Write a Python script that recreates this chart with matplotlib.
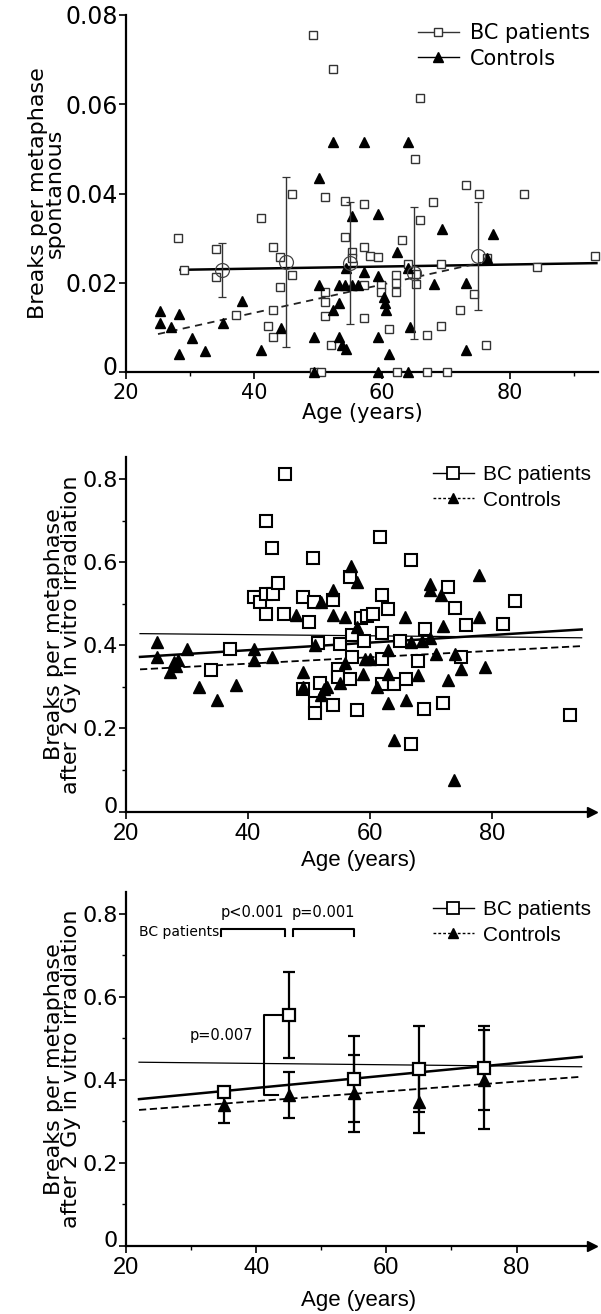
import matplotlib
matplotlib.use("Agg")
import matplotlib.pyplot as plt
import matplotlib.transforms as mtransforms
from matplotlib.ticker import FixedLocator, FixedFormatter

# ---- panel A: spontaneous breaks vs age (single subjects) ----
bc_age_a = [28.2, 29.1, 34.1, 34.1, 37.2, 41.1, 43.0, 44.0, 43.0, 42.2, 43.0, 44.1, 46.0, 46.0,
            49.2, 52.3, 49.3, 50.4, 51.1, 51.1, 51.1, 51.1, 52.1, 54.2, 54.2, 55.3, 55.3, 57.2,
            57.2, 58.1, 59.3, 57.2, 57.2, 59.9, 59.9, 61.1, 62.2, 62.2, 62.2, 63.1, 64.1, 65.2,
            66.0, 66.0, 65.3, 65.3, 67.1, 62.3, 67.1, 70.1, 68.0, 69.2, 69.2, 72.2, 73.1, 74.3,
            75.2, 76.4, 76.2, 82.2, 84.2, 93.3]
bc_val_a = [0.030, 0.0229, 0.0275, 0.0213, 0.0127, 0.0346, 0.0279, 0.0258, 0.0139, 0.0103, 0.0079,
            0.0191, 0.040, 0.0217, 0.0755, 0.0678, 0.0, 0.0, 0.0393, 0.018, 0.0157, 0.0126, 0.006,
            0.0384, 0.0303, 0.027, 0.0255, 0.0377, 0.028, 0.026, 0.0257, 0.0195, 0.0122, 0.0195,
            0.018, 0.0097, 0.0217, 0.0199, 0.018, 0.0296, 0.0242, 0.0477, 0.0613, 0.034, 0.022,
            0.0197, 0.0082, 0.0, 0.0, 0.0, 0.0382, 0.0242, 0.0103, 0.0139, 0.042, 0.0175, 0.040,
            0.0255, 0.006, 0.040, 0.0235, 0.026]
ct_age_a = [25.3, 25.3, 27.1, 28.3, 28.3, 30.3, 32.3, 35.2, 38.2, 41.1, 44.2, 49.3, 49.3, 50.2,
            50.2, 52.3, 52.3, 53.3, 53.3, 54.2, 55.3, 54.4, 55.3, 53.3, 53.8, 54.4, 57.2, 57.2,
            59.3, 59.3, 59.3, 59.3, 56.3, 62.3, 60.3, 60.5, 60.7, 61.1, 64.1, 64.1, 64.4, 64.1,
            68.1, 69.3, 73.1, 73.1, 77.3, 76.4]
ct_val_a = [0.0137, 0.0109, 0.0101, 0.013, 0.004, 0.0077, 0.0047, 0.0109, 0.016, 0.0049, 0.0098,
            0.0079, 0.0, 0.0435, 0.0195, 0.0515, 0.014, 0.0154, 0.0195, 0.0195, 0.0195, 0.0232,
            0.035, 0.0079, 0.006, 0.0051, 0.0515, 0.0225, 0.0354, 0.0215, 0.0079, 0.0, 0.0195,
            0.0268, 0.0168, 0.0154, 0.0139, 0.004, 0.0515, 0.0232, 0.0101, 0.0, 0.0197, 0.032,
            0.0199, 0.0049, 0.031, 0.0255]
group_age = [35, 45, 55, 65, 75]
bc_mean_a = [0.0229, 0.0247, 0.0245, 0.0222, 0.026]
bc_sd_a = [0.006, 0.019, 0.0137, 0.0148, 0.012]
bc_fit_a_x, bc_fit_a_y = [28.5, 93.5], [0.0229, 0.0244]
ct_fit_a_x, ct_fit_a_y = [25.0, 75.5], [0.0085, 0.0245]

# ---- panel B: breaks after 2 Gy vs age (single subjects) ----
bc_age_b = [34.0, 37.0, 41.0, 42.0, 43.0, 44.1, 45.0, 43.0, 45.9, 43.0, 43.9, 46.0, 49.0, 49.0,
            50.8, 50.0, 50.7, 51.0, 51.0, 51.5, 51.8, 53.9, 54.0, 54.8, 54.8, 55.1, 56.7, 56.8,
            57.0, 57.0, 57.8, 58.6, 59.5, 60.5, 61.6, 61.9, 61.9, 61.9, 63.0, 63.9, 59.0, 62.0,
            65.0, 65.9, 66.8, 66.8, 67.9, 68.9, 69.0, 71.9, 72.8, 73.9, 75.0, 75.8, 81.8, 83.8, 92.8]
bc_val_b = [0.34, 0.392, 0.515, 0.504, 0.524, 0.524, 0.55, 0.476, 0.476, 0.70, 0.633, 0.813, 0.516,
            0.295, 0.504, 0.456, 0.61, 0.26, 0.236, 0.405, 0.308, 0.508, 0.256, 0.344, 0.324, 0.404,
            0.32, 0.564, 0.424, 0.372, 0.244, 0.465, 0.47, 0.476, 0.66, 0.52, 0.366, 0.306, 0.488,
            0.306, 0.41, 0.43, 0.41, 0.32, 0.605, 0.162, 0.362, 0.246, 0.44, 0.26, 0.54, 0.49,
            0.372, 0.448, 0.45, 0.507, 0.232]
ct_age_b = [25.1, 25.1, 27.2, 27.8, 28.2, 28.5, 30.0, 32.0, 35.0, 38.0, 41.0, 41.0, 44.0, 47.9,
            49.0, 49.0, 51.0, 51.9, 52.0, 52.5, 53.0, 53.9, 53.9, 55.1, 55.9, 55.9, 56.9, 57.8,
            57.8, 58.9, 59.2, 60.0, 61.1, 63.0, 63.0, 63.0, 63.9, 65.7, 65.9, 66.8, 67.9, 68.5,
            69.8, 69.8, 69.8, 70.9, 71.7, 71.9, 72.8, 73.7, 73.9, 74.9, 77.8, 77.9, 78.9]
ct_val_b = [0.408, 0.372, 0.336, 0.36, 0.35, 0.365, 0.392, 0.30, 0.268, 0.304, 0.392, 0.364, 0.372,
            0.472, 0.336, 0.30, 0.40, 0.504, 0.28, 0.295, 0.30, 0.532, 0.472, 0.308, 0.468, 0.357,
            0.59, 0.552, 0.444, 0.332, 0.368, 0.368, 0.30, 0.388, 0.332, 0.26, 0.172, 0.468, 0.268,
            0.408, 0.328, 0.41, 0.548, 0.532, 0.417, 0.38, 0.52, 0.446, 0.316, 0.076, 0.38, 0.344,
            0.568, 0.468, 0.348]
all_fit_b_x, all_fit_b_y = [22.3, 94.7], [0.428, 0.418]
bc_fit_b_x, bc_fit_b_y = [22.3, 94.7], [0.372, 0.438]
ct_fit_b_x, ct_fit_b_y = [22.3, 94.7], [0.342, 0.398]

# ---- panel C: group means after 2 Gy ----
bc_mean_c = [0.371, 0.556, 0.401, 0.426, 0.429]
bc_sd_c = [0.012, 0.103, 0.103, 0.104, 0.101]
ct_mean_c = [0.339, 0.363, 0.367, 0.347, 0.40]
ct_sd_c = [0.043, 0.055, 0.093, 0.075, 0.12]
all_fit_c_x, all_fit_c_y = [22.0, 90.0], [0.442, 0.431]
bc_fit_c_x, bc_fit_c_y = [22.0, 90.0], [0.353, 0.455]
ct_fit_c_x, ct_fit_c_y = [22.0, 90.0], [0.327, 0.407]

DV = ['DejaVu Sans']
LS = ['Liberation Sans', 'DejaVu Sans']

fig = plt.figure(figsize=(6.01, 13.14), dpi=100)
W, H = 601.0, 1314.0


def make_axes(x0, x1, ytop, ybot):
    return fig.add_axes([x0 / W, 1 - ybot / H, (x1 - x0) / W, (ybot - ytop) / H])


def style_axes(ax, xfont, yfont, xsize, ysize, arrow, xpad=1):
    for s in ['top', 'right']:
        ax.spines[s].set_visible(False)
    for s in ['left', 'bottom']:
        ax.spines[s].set_linewidth(1.6)
    ax.tick_params(which='major', direction='out', length=5, width=1.2, pad=1)
    ax.tick_params(axis='x', which='major', pad=xpad)
    ax.tick_params(which='minor', direction='out', length=3, width=1.0)
    for lab in ax.get_xticklabels():
        lab.set_family(xfont)
        lab.set_fontsize(xsize)
    for lab in ax.get_yticklabels():
        lab.set_family(yfont)
        lab.set_fontsize(ysize)
    # lift the "0" label a little so it clears the first x label
    zero = ax.get_yticklabels()[0]
    zero.set_transform(zero.get_transform() + mtransforms.ScaledTranslation(0, 5 / 72, fig.dpi_scale_trans))
    if arrow:
        ax.plot(1, 0, marker='>', color='k', markersize=7, transform=ax.transAxes, clip_on=False)


# ------------------- panel A -------------------
ax1 = make_axes(126, 598, 15, 372)
ax1.set_xlim(20, 93.75)
ax1.set_ylim(0, 0.08)
ax1.plot(bc_age_a, bc_val_a, 's', mfc='white', mec='#333333', ms=6, mew=1.0, clip_on=False, zorder=3)
ax1.plot(ct_age_a, ct_val_a, '^', color='black', ms=7, clip_on=False, zorder=3)
ax1.errorbar(group_age, bc_mean_a, yerr=bc_sd_a, fmt='o', mfc='none', mec='#444444', ms=10,
             mew=0.9, ecolor='#333333', elinewidth=1.0, capsize=3, capthick=1.0, zorder=4)
ax1.plot(bc_fit_a_x, bc_fit_a_y, '-', color='black', lw=1.8, zorder=2)
ax1.plot(ct_fit_a_x, ct_fit_a_y, '--', color='#222222', lw=1.3, dashes=(4, 3), zorder=2)
ax1.xaxis.set_major_locator(FixedLocator([20, 40, 60, 80]))
ax1.xaxis.set_minor_locator(FixedLocator([30, 50, 70, 90]))
ax1.yaxis.set_major_locator(FixedLocator([0, 0.02, 0.04, 0.06, 0.08]))
ax1.yaxis.set_major_formatter(FixedFormatter(['0', '0.02', '0.04', '0.06', '0.08']))
style_axes(ax1, DV, DV, 15, 17, False, xpad=3)
ax1.set_xlabel('Age (years)', family=DV, fontsize=15, labelpad=0)
ax1.set_ylabel('Breaks per metaphase\nspontanous', family=DV, fontsize=16, linespacing=0.8, labelpad=0)
h1, = ax1.plot([], [], '-s', color='#333333', lw=1.0, mfc='white', ms=6)
h2, = ax1.plot([], [], '-^', color='black', lw=1.0, ms=7)
ax1.legend([h1, h2], ['BC patients', 'Controls'], loc='upper left', bbox_to_anchor=(0.6, 1.0),
           frameon=False, prop={'family': DV, 'size': 15}, handlelength=2.0, handletextpad=0.5,
           labelspacing=0.25, borderaxespad=0)

# ------------------- panel B -------------------
ax2 = make_axes(126, 592, 457, 811.5)
ax2.set_xlim(20, 96.4)
ax2.set_ylim(0, 0.853)
ax2.plot(all_fit_b_x, all_fit_b_y, '-', color='black', lw=0.9, zorder=2)
ax2.plot(bc_fit_b_x, bc_fit_b_y, '-', color='black', lw=1.8, zorder=2)
ax2.plot(ct_fit_b_x, ct_fit_b_y, '--', color='black', lw=1.3, dashes=(4, 2), zorder=2)
ax2.plot(bc_age_b, bc_val_b, 's', mfc='white', mec='black', ms=8, mew=1.5, zorder=3)
ax2.plot(ct_age_b, ct_val_b, '^', color='black', ms=8, zorder=3)
ax2.xaxis.set_major_locator(FixedLocator([20, 40, 60, 80]))
ax2.yaxis.set_major_locator(FixedLocator([0, 0.2, 0.4, 0.6, 0.8]))
ax2.yaxis.set_minor_locator(FixedLocator([0.1, 0.3, 0.5, 0.7]))
ax2.yaxis.set_major_formatter(FixedFormatter(['0', '0.2', '0.4', '0.6', '0.8']))
style_axes(ax2, LS, DV, 17, 16, True, xpad=3)
ax2.set_xlabel('Age (years)', family=LS, fontsize=16, labelpad=4)
ax2.set_ylabel('Breaks per metaphase\nafter 2 Gy in vitro irradiation', family=DV, fontsize=16,
               linespacing=0.8, labelpad=1)
h1, = ax2.plot([], [], '-s', color='black', lw=1.0, mfc='white', ms=8, mew=1.3)
h2, = ax2.plot([], [], '--^', color='black', lw=1.0, ms=7, dashes=(2, 1.5))
ax2.legend([h1, h2], ['BC patients', 'Controls'], loc='upper left', bbox_to_anchor=(0.64, 1.0),
           frameon=False, prop={'family': LS, 'size': 15}, handlelength=2.0, handletextpad=0.4,
           labelspacing=0.3, borderaxespad=0)

# ------------------- panel C -------------------
ax3 = make_axes(126, 592, 892, 1245.7)
ax3.set_xlim(20, 91.6)
ax3.set_ylim(0, 0.852)
ax3.plot(all_fit_c_x, all_fit_c_y, '-', color='black', lw=0.9, zorder=2)
ax3.plot(bc_fit_c_x, bc_fit_c_y, '-', color='black', lw=1.8, zorder=2)
ax3.plot(ct_fit_c_x, ct_fit_c_y, '--', color='black', lw=1.3, dashes=(4, 2), zorder=2)
ax3.errorbar(group_age, ct_mean_c, yerr=ct_sd_c, fmt='^', color='black', ms=9, ecolor='black',
             elinewidth=1.6, capsize=4, capthick=1.6, zorder=3)
ax3.errorbar(group_age, bc_mean_c, yerr=bc_sd_c, fmt='s', mfc='white', mec='black', ms=9, mew=1.6,
             ecolor='black', elinewidth=1.6, capsize=4, capthick=1.6, zorder=4)
# significance brackets
ax3.plot([34.6, 34.6, 44.4, 44.4], [0.747, 0.763, 0.763, 0.747], color='black', lw=1.5)
ax3.plot([45.6, 45.6, 55.0, 55.0], [0.747, 0.763, 0.763, 0.747], color='black', lw=1.5)
ax3.plot([43.8, 41.2, 41.2, 43.4], [0.556, 0.556, 0.363, 0.363], color='black', lw=1.5)
ax3.text(34.3, 0.755, 'BC patients', ha='right', va='center', family=DV, fontsize=10)
ax3.text(39.5, 0.785, 'p<0.001', ha='center', va='bottom', family=DV, fontsize=10.5)
ax3.text(50.3, 0.785, 'p=0.001', ha='center', va='bottom', family=DV, fontsize=10.5)
ax3.text(34.7, 0.506, 'p=0.007', ha='center', va='center', family=DV, fontsize=10.5)
ax3.xaxis.set_major_locator(FixedLocator([20, 40, 60, 80]))
ax3.xaxis.set_minor_locator(FixedLocator([30, 50, 70]))
ax3.yaxis.set_major_locator(FixedLocator([0, 0.2, 0.4, 0.6, 0.8]))
ax3.yaxis.set_minor_locator(FixedLocator([0.1, 0.3, 0.5, 0.7]))
ax3.yaxis.set_major_formatter(FixedFormatter(['0', '0.2', '0.4', '0.6', '0.8']))
style_axes(ax3, LS, DV, 17, 16, True, xpad=3)
ax3.set_xlabel('Age (years)', family=LS, fontsize=16, labelpad=8)
ax3.set_ylabel('Breaks per metaphase\nafter 2 Gy in vitro irradiation', family=DV, fontsize=16,
               linespacing=0.8, labelpad=1)
h1, = ax3.plot([], [], '-s', color='black', lw=1.0, mfc='white', ms=8, mew=1.3)
h2, = ax3.plot([], [], '--^', color='black', lw=1.0, ms=7, dashes=(2, 1.5))
ax3.legend([h1, h2], ['BC patients', 'Controls'], loc='upper left', bbox_to_anchor=(0.64, 1.0),
           frameon=False, prop={'family': LS, 'size': 15}, handlelength=2.0, handletextpad=0.4,
           labelspacing=0.3, borderaxespad=0)

fig.savefig('out.png', dpi=100)
